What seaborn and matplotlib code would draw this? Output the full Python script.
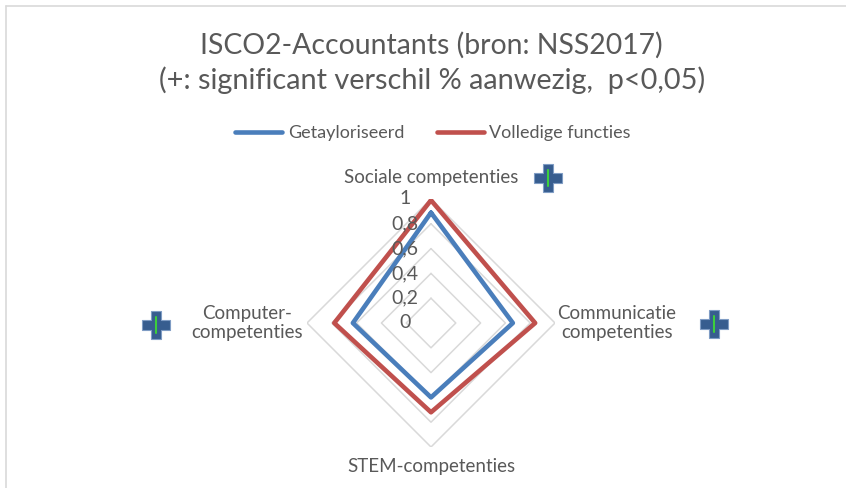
import numpy as np
import pandas as pd
import matplotlib
matplotlib.use('Agg')
import matplotlib.pyplot as plt
import matplotlib.transforms as mtransforms
import seaborn as sns

# data
categories = ['Sociale competenties', 'Communicatie\ncompetenties',
              'STEM-competenties', 'Computer-\ncompetenties']
getayloriseerd = [0.89, 0.66, 0.60, 0.63]
volledig = [0.99, 0.84, 0.72, 0.78]
series_names = ['Getayloriseerd', 'Volledige functies']
r_ticks = [0, 0.2, 0.4, 0.6, 0.8, 1.0]
r_ticklabels = ['0', '0,2', '0,4', '0,6', '0,8', '1']
significant = [True, True, False, True]

sns.set_theme(style='white')
plt.rcParams['font.family'] = ['Lato', 'DejaVu Sans']
grey = '#595959'

fig = plt.figure(figsize=(8.46, 4.88), dpi=100)

# overlay in pixel coords for border and plus icons
ov = fig.add_axes([0, 0, 1, 1])
ov.set_xlim(0, 846)
ov.set_ylim(488, 0)
ov.axis('off')
ov.plot([6, 846], [6, 6], color='#d9d9d9', lw=1.2)
ov.plot([6, 6], [6, 488], color='#d9d9d9', lw=1.2)

# radar
cx, cy, rad = 431, 323, 124
ax = fig.add_axes([(cx - rad) / 846, (488 - cy - rad) / 488, 2 * rad / 846, 2 * rad / 488],
                  polar=True)
ax.set_theta_zero_location('N')
ax.set_theta_direction(-1)
ax.set_ylim(0, 1)
ax.grid(False)
ax.spines['polar'].set_visible(False)
ax.set_xticks([])
ax.set_yticks([])
ax.set_facecolor('none')

n = len(categories)
theta = np.linspace(0, 2 * np.pi, n, endpoint=False)
theta_closed = np.append(theta, theta[0])

for r in r_ticks[1:]:
    ax.plot(theta_closed, [r] * (n + 1), color='#d9d9d9', lw=1.1, zorder=1)

rows = []
for name, vals in zip(series_names, [getayloriseerd, volledig]):
    closed = list(vals) + [vals[0]]
    for t, v in zip(theta_closed, closed):
        rows.append({'theta': t, 'waarde': v, 'serie': name})
df = pd.DataFrame(rows)

sns.lineplot(data=df, x='theta', y='waarde', hue='serie', sort=False, estimator=None,
             palette=['#4a7ebb', '#c0504d'], lw=3.3, ax=ax, legend=True)
ax.set_xlabel('')
ax.set_ylabel('')
ax.set_ylim(0, 1)
ax.set_xticks([])
ax.set_yticks([])

handles, labels = ax.get_legend_handles_labels()
ax.get_legend().remove()
for h in handles:
    h.set_linewidth(3.3)
fig.legend(handles, labels, loc='center', bbox_to_anchor=(433 / 846, 1 - 133 / 488),
           ncol=2, frameon=False, fontsize=13, labelcolor=grey,
           handlelength=2.6, handletextpad=0.3, columnspacing=1.8)

# radial tick labels
off = mtransforms.offset_copy(ax.transData, fig=fig, x=-26, y=0, units='dots')
for r, s in zip(r_ticks, r_ticklabels):
    ax.text(0, r, s, transform=off, ha='center', va='center', fontsize=14,
            color=grey, zorder=5)

# category labels
label_r = [1.17, 1.5, 1.16, 1.48]
for t, lab, lr in zip(theta, categories, label_r):
    ax.text(t, lr, lab, ha='center', va='center', fontsize=13.5, color=grey,
            linespacing=1.2)

# significance markers
plus_pos = [(548, 178), (714, 324), None, (156, 325)]
for sig, pos in zip(significant, plus_pos):
    if sig and pos is not None:
        ov.plot(pos[0], pos[1], marker='P', ms=20, color='#375d8f',
                mec='#7f9cc4', mew=0.8)
        ov.plot([pos[0], pos[0]], [pos[1] - 8, pos[1] + 8], color='#3ccf3c', lw=1.5)

fig.text(431 / 846, 1 - 45 / 488, 'ISCO2-Accountants (bron: NSS2017)',
         ha='center', va='center', fontsize=20.4, color=grey)
fig.text(432 / 846, 1 - 80 / 488, '(+: significant verschil % aanwezig,  p<0,05)',
         ha='center', va='center', fontsize=20.8, color=grey)

fig.savefig('out.png', dpi=100, facecolor='white')
